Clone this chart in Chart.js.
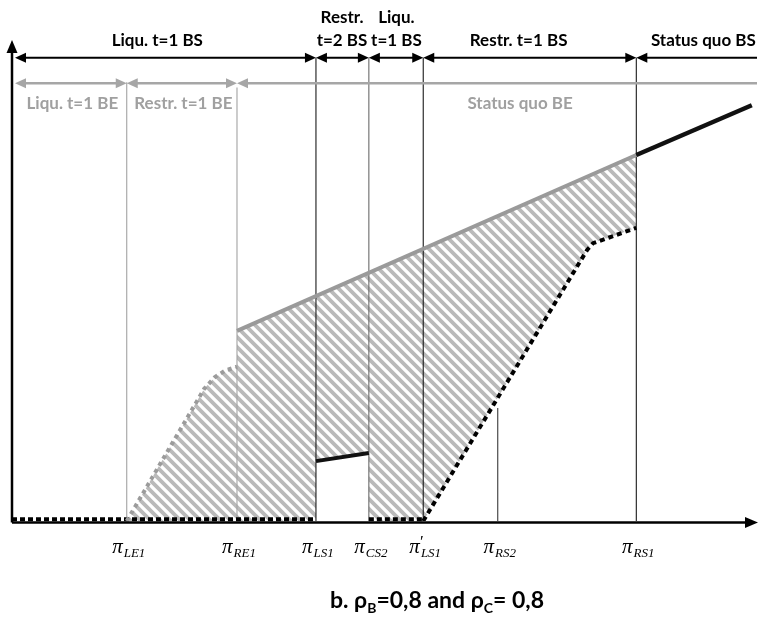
<!DOCTYPE html>
<html><head><meta charset="utf-8">
<script src="https://cdn.jsdelivr.net/npm/chart.js@4/dist/chart.umd.min.js"></script>
<style>html,body{margin:0;padding:0;background:#fff}#wrap{width:762px;height:628px;position:relative}</style>
</head><body><div id="wrap"><canvas id="c" width="762" height="628"></canvas></div>
<script>
// ---------- data ----------
const tickNames  = ['LE1','RE1','LS1','CS2','LS1','RS2','RS1'];
const tickPrimes = [false,false,false,false,true,false,false];
const tickX      = [15.4, 30.2, 40.8, 47.9, 55.2, 65.2, 83.8];
const tickTops   = [91.6, 90.5, 96.7, 96.7, 96.7, 23.6, 96.7];

const statusQuoX = [30.2, 83.8, 99.3];
const statusQuoY = [39.7, 76.4, 86.8];
const restrT2X   = [40.8, 47.9];
const restrT2Y   = [12.5, 14.2];
const beDottedX  = [15.4, 25.8, 27.2, 28.6, 30.2];
const beDottedY  = [0, 27.6, 30.0, 31.4, 32.2];
const bsDottedX  = [55.2, 77.2, 78.0, 83.8];
const bsDottedY  = [0, 56.6, 58.0, 61.2];
const zeroStartX = [0, 47.9];
const zeroEndX   = [40.8, 55.2];

const bsLabels = ['Liqu. t=1 BS', 'Restr.|t=2 BS', 'Liqu.|t=1 BS', 'Restr. t=1 BS', 'Status quo BS'];
const bsLabelX = [19.5, 44.3, 51.6, 68.0, 92.8];
const bsBounds = [0, 40.8, 47.9, 55.2, 83.8, 100];
const bsRowY   = 96.7;
const beLabels = ['Liqu. t=1 BE', 'Restr. t=1 BE', 'Status quo BE'];
const beLabelX = [8.1, 23.0, 68.2];
const beBounds = [0, 15.4, 30.2, 100];
const beRowY   = 91.4;
const titleParts = [['b. ρ',''],['B','sub'],['=0,8 and ρ',''],['C','sub'],['= 0,8','']];

// ---------- helpers ----------
const pts = (xs, ys) => xs.map((x, i) => ({x, y: ys[i]}));
function makeHatch(){
  const s = 10, cv = document.createElement('canvas'); cv.width = s; cv.height = s;
  const g = cv.getContext('2d');
  g.fillStyle = '#fff'; g.fillRect(0, 0, s, s);
  g.strokeStyle = '#bababa'; g.lineWidth = 3.8;
  g.beginPath();
  g.moveTo(-3, -3); g.lineTo(s + 3, s + 3);
  g.moveTo(s - 4, -4); g.lineTo(s + 4, 4);
  g.moveTo(-4, s - 4); g.lineTo(4, s + 4);
  g.stroke();
  return g.createPattern(cv, 'repeat');
}

const hatchUpper = pts(beDottedX, beDottedY).concat(pts(statusQuoX.slice(0, 2), statusQuoY.slice(0, 2)));
const datasets = [];
datasets.push({data: hatchUpper, fill: 'origin', backgroundColor: makeHatch(), borderWidth: 0, order: 40});
datasets.push({data: pts(restrT2X, restrT2Y), fill: 'origin', backgroundColor: '#fff', borderWidth: 0, order: 39});
datasets.push({data: pts(bsDottedX, bsDottedY), fill: 'origin', backgroundColor: '#fff', borderWidth: 0, order: 39});
const vColors = ['#a3a3a3', '#a3a3a3', '#1a1a1a', '#6a6a6a', '#1a1a1a', '#3a3a3a', '#1a1a1a'];
tickX.forEach((x, i) => datasets.push({data: [{x, y: 0}, {x, y: tickTops[i]}], borderColor: vColors[i], borderWidth: 1.1, order: 20}));
zeroStartX.forEach((x, i) => datasets.push({data: [{x, y: 0.35}, {x: zeroEndX[i], y: 0.35}], borderColor: '#000', borderWidth: 4, borderDash: [5, 3], order: 5, clip: false}));
datasets.push({data: pts(beDottedX, beDottedY), borderColor: '#9b9b9b', borderWidth: 4, borderDash: [4, 4], order: 4, tension: 0});
datasets.push({data: pts(bsDottedX, bsDottedY), borderColor: '#000', borderWidth: 4, borderDash: [5, 4], order: 4});
datasets.push({data: pts(statusQuoX.slice(0, 2), statusQuoY.slice(0, 2)), borderColor: '#9a9a9a', borderWidth: 4, order: 3});
datasets.push({data: pts(statusQuoX.slice(1), statusQuoY.slice(1)), borderColor: '#111', borderWidth: 4.5, order: 2});
datasets.push({data: pts(restrT2X, restrT2Y), borderColor: '#111', borderWidth: 4, order: 2});
datasets.forEach(d => { d.showLine = true; d.pointRadius = 0; d.borderCapStyle = 'butt'; if (d.fill === undefined) d.fill = false; });

function head(ctx, x, y, dir, color){
  ctx.fillStyle = color; ctx.beginPath();
  ctx.moveTo(x, y); ctx.lineTo(x - dir * 11, y - 5); ctx.lineTo(x - dir * 11, y + 5);
  ctx.closePath(); ctx.fill();
}
function arrowRow(ctx, X, y, bounds, color, width){
  ctx.strokeStyle = color; ctx.lineWidth = width;
  for (let i = 0; i < bounds.length - 1; i++) {
    const last = i === bounds.length - 2;
    let x1 = X.getPixelForValue(bounds[i]); if (i === 0) x1 += 3;
    const x2 = X.getPixelForValue(bounds[i + 1]);
    ctx.beginPath(); ctx.moveTo(x1 + 6, y); ctx.lineTo(last ? x2 : x2 - 6, y); ctx.stroke();
    head(ctx, x1, y, -1, color);
    if (!last) head(ctx, x2, y, 1, color);
  }
}

const deco = {
  id: 'deco',
  afterDatasetsDraw(chart){
    const ctx = chart.ctx, X = chart.scales.x, Y = chart.scales.y;
    const x0 = X.getPixelForValue(0), y0 = Y.getPixelForValue(0);
    ctx.save();
    // axes
    ctx.strokeStyle = '#000'; ctx.lineWidth = 2.5;
    ctx.beginPath(); ctx.moveTo(x0, y0 + 1.5); ctx.lineTo(x0, Y.getPixelForValue(100) + 8); ctx.stroke();
    ctx.beginPath(); ctx.moveTo(x0, y0 + 1.5); ctx.lineTo(X.getPixelForValue(100) - 8, y0 + 1.5); ctx.stroke();
    ctx.fillStyle = '#000';
    ctx.beginPath(); const ty = Y.getPixelForValue(100) - 2;
    ctx.moveTo(x0, ty); ctx.lineTo(x0 - 5.5, ty + 13); ctx.lineTo(x0 + 5.5, ty + 13); ctx.closePath(); ctx.fill();
    const tx = X.getPixelForValue(100) + 1;
    ctx.beginPath(); ctx.moveTo(tx, y0 + 1.5); ctx.lineTo(tx - 13, y0 - 4); ctx.lineTo(tx - 13, y0 + 7); ctx.closePath(); ctx.fill();
    // arrow rows
    arrowRow(ctx, X, Y.getPixelForValue(bsRowY), bsBounds, '#000', 2);
    arrowRow(ctx, X, Y.getPixelForValue(beRowY), beBounds, '#a6a6a6', 2.5);
    // labels
    ctx.textAlign = 'center'; ctx.textBaseline = 'middle';
    ctx.font = 'bold 17px Lato';
    ctx.fillStyle = '#000';
    bsLabels.forEach((t, i) => {
      const cx = X.getPixelForValue(bsLabelX[i]);
      const parts = t.split('|');
      if (parts.length === 2) { ctx.fillText(parts[0], cx, 18); ctx.fillText(parts[1], cx, 41); }
      else ctx.fillText(t, cx, 41);
    });
    ctx.fillStyle = '#a0a0a0';
    beLabels.forEach((t, i) => ctx.fillText(t, X.getPixelForValue(beLabelX[i]), 104));
    // tick labels
    ctx.textAlign = 'left'; ctx.textBaseline = 'alphabetic'; ctx.fillStyle = '#000';
    tickX.forEach((v, i) => {
      const cx = X.getPixelForValue(v);
      ctx.font = 'italic 21px "Liberation Serif"'; const wp = ctx.measureText('π').width;
      ctx.font = 'italic 13px "Liberation Serif"'; const ws = ctx.measureText(tickNames[i]).width;
      const sx = cx - (wp + ws + 1) / 2 + 2;
      ctx.font = 'italic 21px "Liberation Serif"'; ctx.fillText('π', sx, 553);
      ctx.font = 'italic 13px "Liberation Serif"'; ctx.fillText(tickNames[i], sx + wp + 1, 557);
      if (tickPrimes[i]) { ctx.font = '17px "Liberation Serif"'; ctx.fillText('′', sx + wp, 547); }
    });
    // title
    let w = 0;
    const fBig = 'bold 23px Lato', fSub = 'bold 14px Lato';
    titleParts.forEach(([t, k]) => { ctx.font = k ? fSub : fBig; w += ctx.measureText(t).width; });
    let x = 437 - w / 2;
    titleParts.forEach(([t, k]) => {
      ctx.font = k ? fSub : fBig;
      ctx.fillText(t, x, k ? 613 : 608); x += ctx.measureText(t).width;
    });
    ctx.restore();
  }
};

new Chart(document.getElementById('c'), {
  type: 'scatter',
  data: {datasets},
  options: {
    responsive: false, animation: false, events: [],
    layout: {padding: {left: 12, right: 5, top: 42, bottom: 107}},
    scales: {
      x: {type: 'linear', min: 0, max: 100, display: false},
      y: {type: 'linear', min: 0, max: 100, display: false}
    },
    plugins: {legend: {display: false}, tooltip: {enabled: false}}
  },
  plugins: [deco]
});
</script></body></html>
